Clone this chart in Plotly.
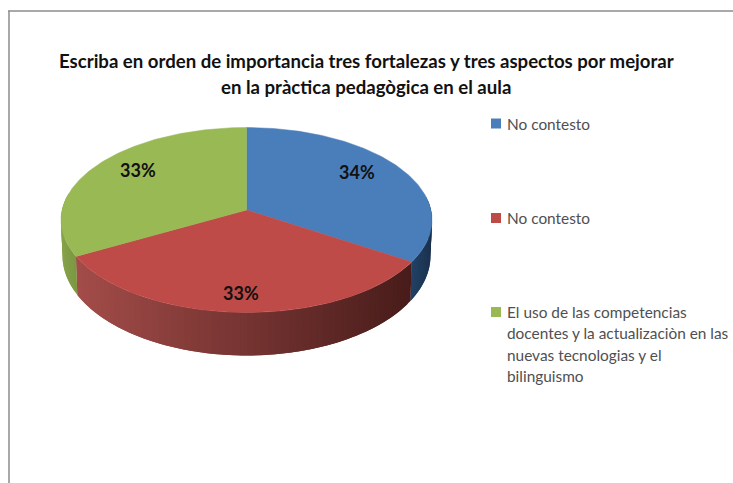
import numpy as np
import plotly.graph_objects as go

# ---- data ----
categories = ["No contesto", "No contesto",
              "El uso de las competencias docentes y la actualizaciòn en las nuevas tecnologias y el bilinguismo"]
values = [34, 33, 33]
title_lines = ["Escriba en orden de importancia tres fortalezas y tres aspectos por mejorar",
               "en la pràctica pedagògica en el aula"]
legend_lines = [["No contesto"], ["No contesto"],
                ["El uso de las competencias", "docentes y la actualizaciòn en las",
                 "nuevas tecnologias y el", "bilinguismo"]]
top_colors = ["#4A7EBB", "#BE4B48", "#98B954"]
side_left = [(34, 66, 103), (163, 76, 73), (134, 163, 74)]
side_right = [(27, 50, 78), (72, 28, 26), (122, 150, 66)]

# ---- pie geometry (pixels of the 733x483 canvas) ----
CX, CY = 246.5, 210.0
R, S, K = 184.4, 91.4, 0.108
DEPTH, YSCALE, XSCALE = 34.8, 1.08, 0.992


def top_pt(theta):
    u, v = np.sin(theta), np.cos(theta)
    w = 1 + K * v
    return u * R / w, -v * S / w


def project(theta, lower=False):
    x, y = top_pt(theta)
    if lower:
        x, y = x * XSCALE, y * YSCALE + DEPTH
    return CX + x, CY + y


fractions = np.array(values) / sum(values)
edges = np.concatenate([[0], np.cumsum(fractions)]) * 2 * np.pi

fig = go.Figure()

# sides first, so the top faces cover what lies behind them
for i, name in enumerate(categories):
    a0, a1 = edges[i], edges[i + 1]
    steps = np.linspace(a0, a1, 61)
    step = steps[1] - steps[0]
    for s0, s1 in zip(steps[:-1], steps[1:]):
        if np.cos((s0 + s1) / 2) > 0.15:
            continue
        # each strip runs on under the next one, so no seams show through
        t = np.linspace(s0, min(s1 + step, a1), 4)
        xt, yt = project(t)
        xb, yb = project(t, True)
        mid = float(project((s0 + s1) / 2)[0])
        if i == 1:
            f = (mid - 77) / (411 - 77)
        elif i == 0:
            f = (mid - 411) / 20
        else:
            f = (mid - 61) / 16
        f = min(max(f, 0), 1)
        col = [round(side_left[i][c] + (side_right[i][c] - side_left[i][c]) * f) for c in range(3)]
        rgb = f"rgb({col[0]},{col[1]},{col[2]})"
        fig.add_trace(go.Scatter(
            x=np.concatenate([xt, xb[::-1]]), y=np.concatenate([yt, yb[::-1]]),
            mode="none", fill="toself", fillcolor=rgb,
            hoverinfo="skip", showlegend=False))

# top faces
for i, name in enumerate(categories):
    t = np.linspace(edges[i], edges[i + 1], 160)
    x, y = project(t)
    fig.add_trace(go.Scatter(
        x=np.concatenate([[CX], x, [CX]]), y=np.concatenate([[CY], y, [CY]]),
        mode="lines", fill="toself", fillcolor=top_colors[i],
        line=dict(color=top_colors[i], width=0.5), name=name,
        text=f"{values[i]}%", hoverinfo="name+text", showlegend=False))

annotations = []
# title
for line, y in zip(title_lines, [61, 87]):
    annotations.append(dict(x=366, y=y, text=f"<b>{line}</b>", showarrow=False, xanchor="center",
                            yanchor="middle", font=dict(family="Lato", size=18.6, color="#111111")))
# percentage labels
for v, (x, y) in zip(values, [(357, 172), (241, 293), (138, 170)]):
    annotations.append(dict(x=x, y=y, text=f"<b>{v}%</b>", showarrow=False, xanchor="center",
                            yanchor="middle", font=dict(family="Lato", size=18, color="#111111")))
# legend text and swatches
shapes = [
    dict(type="line", x0=9, x1=9, y0=11, y1=483, line=dict(color="#A8A8A8", width=2)),
    dict(type="line", x0=8, x1=733, y0=11, y1=11, line=dict(color="#8C8C8C", width=1.5)),
]
for i, (lines, y0) in enumerate(zip(legend_lines, [123.5, 218, 312])):
    shapes.append(dict(type="rect", x0=491, x1=501, y0=y0 - 5, y1=y0 + 5,
                       line=dict(width=0), fillcolor=top_colors[i]))
    for j, line in enumerate(lines):
        annotations.append(dict(x=505, y=y0 + j * 21.3, text=line, showarrow=False, xanchor="left",
                                yanchor="middle", font=dict(family="Lato", size=15.4, color="#505050")))

fig.update_layout(
    width=733, height=483, autosize=False,
    margin=dict(l=0, r=0, t=0, b=0),
    paper_bgcolor="white", plot_bgcolor="white",
    xaxis=dict(range=[0, 733], visible=False, fixedrange=True),
    yaxis=dict(range=[483, 0], visible=False, fixedrange=True),
    shapes=shapes, annotations=annotations, showlegend=False,
)
fig.write_html("out.html", config=dict(displayModeBar=False),
               post_script="document.body.style.margin='0';")
